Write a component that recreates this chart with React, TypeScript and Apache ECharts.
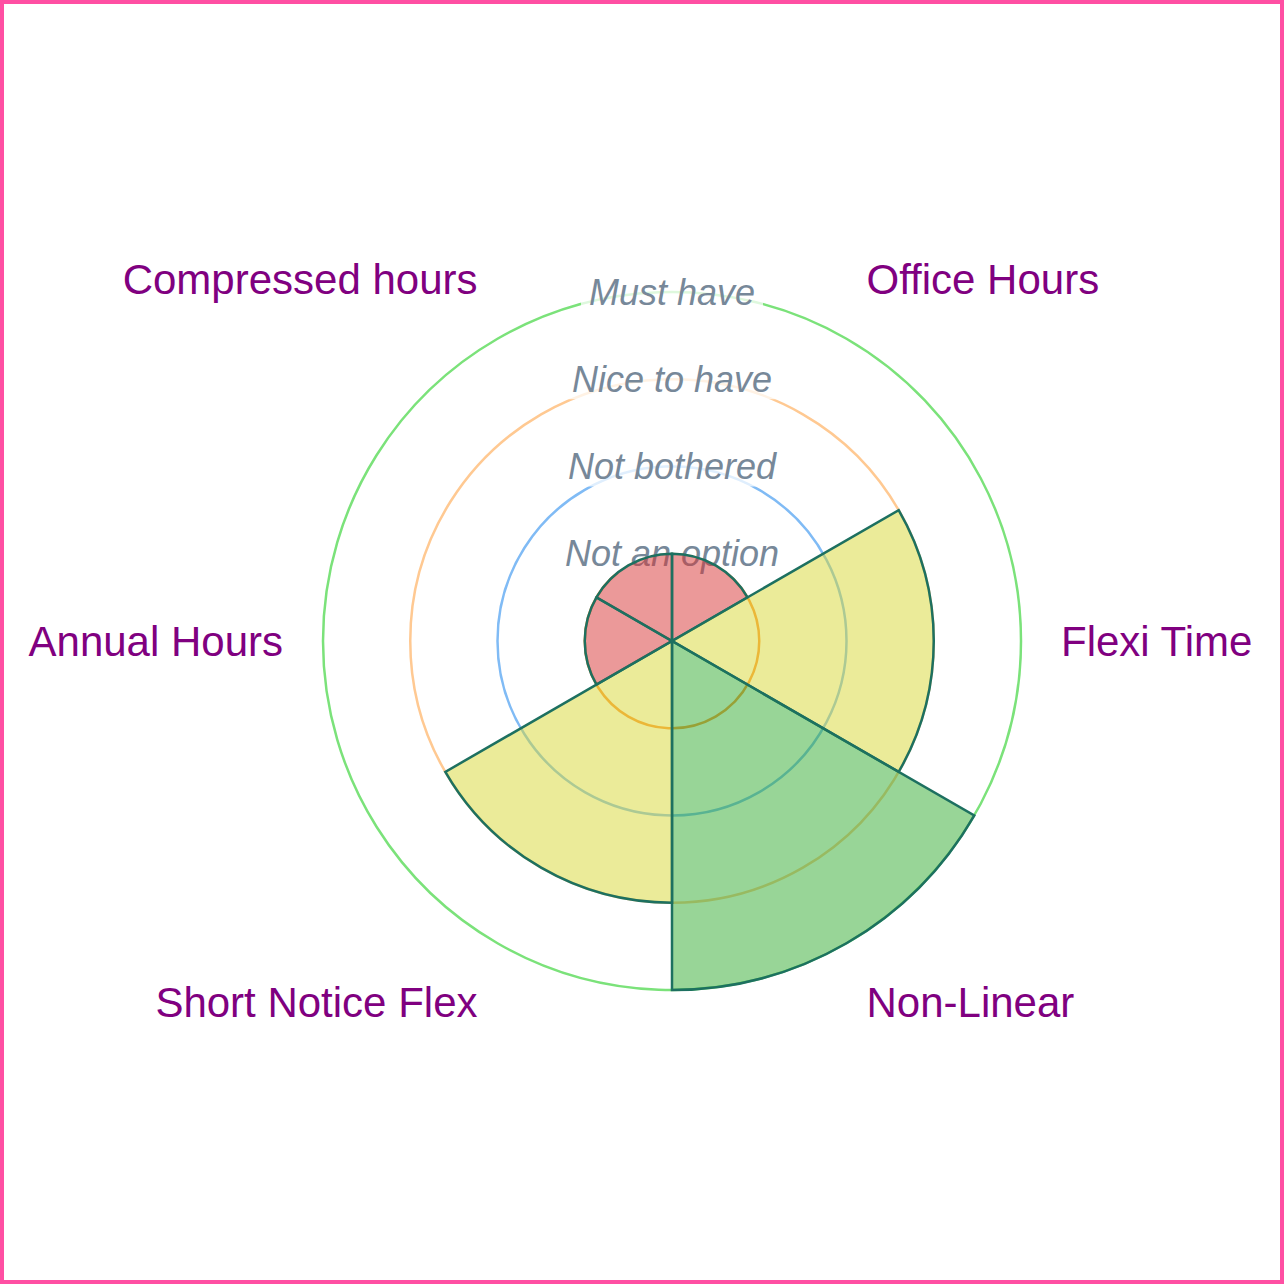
import { useEffect, useRef } from "react";
import * as echarts from "echarts";

type EChartsOption = echarts.EChartsOption;

// categories, clockwise from the top
const categories = [
  "Office Hours",
  "Flexi Time",
  "Non-Linear",
  "Short Notice Flex",
  "Annual Hours",
  "Compressed hours",
];

// preference level per category (1..4)
const levels = [1, 3, 4, 3, 1, 1];

// tick labels of the radius axis, index = tick value
const levelLabels = ["", "Not an option", "Not bothered", "Nice to have", "Must have"];

// fill per level
const levelFills = [
  "transparent",
  "rgba(215, 52, 52, 0.5)",
  "rgba(54, 162, 235, 0.5)",
  "rgba(215, 215, 52, 0.5)",
  "rgba(50, 172, 48, 0.5)",
];

// ring colour per tick (tick 0 has no visible ring)
const ringColors = ["#cccccc", "#ff963c", "#80bbf5", "#ffc992", "#7be27a"];

const FONT = "'Liberation Sans', Arial, sans-serif";

export default function App() {
  const chartRef = useRef<HTMLDivElement>(null);

  useEffect(() => {
    document.body.style.margin = "0";
    if (!chartRef.current) return;

    const chart = echarts.init(chartRef.current, undefined, { renderer: "svg" });
    const option: EChartsOption = {
      animation: false,
      backgroundColor: "#ffffff",
      polar: {
        center: [668, 637],
        radius: 349,
      },
      angleAxis: {
        type: "category",
        data: categories,
        startAngle: 90,
        clockwise: true,
        boundaryGap: true,
        axisLine: { show: false },
        axisTick: { show: false },
        splitLine: { show: false },
        axisLabel: {
          margin: 40,
          color: "#800080",
          fontSize: 42,
          lineHeight: 50,
          fontFamily: FONT,
        },
      },
      radiusAxis: {
        type: "value",
        min: 0,
        max: 4,
        interval: 1,
        axisLine: { show: false },
        axisTick: { show: false },
        splitLine: {
          show: true,
          lineStyle: { color: ringColors, width: 2.5 },
        },
        axisLabel: {
          margin: 0,
          align: "center",
          verticalAlign: "middle",
          showMaxLabel: true,
          color: "#778899",
          fontSize: 36,
          fontStyle: "italic",
          fontFamily: FONT,
          backgroundColor: "rgba(255, 255, 255, 0.75)",
          padding: [2, 8],
          formatter: (v: number) => levelLabels[v] ?? "",
        },
      },
      series: [
        {
          type: "bar",
          coordinateSystem: "polar",
          barCategoryGap: "0%",
          data: levels.map((v) => ({
            value: v,
            itemStyle: { color: levelFills[v] },
          })),
          itemStyle: {
            borderColor: "#1d7060",
            borderWidth: 2.5,
          },
        },
      ],
    };
    chart.setOption(option);

    return () => {
      chart.dispose();
    };
  }, []);

  return (
    <div
      style={{
        width: 1284,
        height: 1284,
        boxSizing: "border-box",
        border: "4px solid #ff4fa3",
        background: "#ffffff",
      }}
    >
      <div ref={chartRef} style={{ width: 1276, height: 1276 }} />
    </div>
  );
}
